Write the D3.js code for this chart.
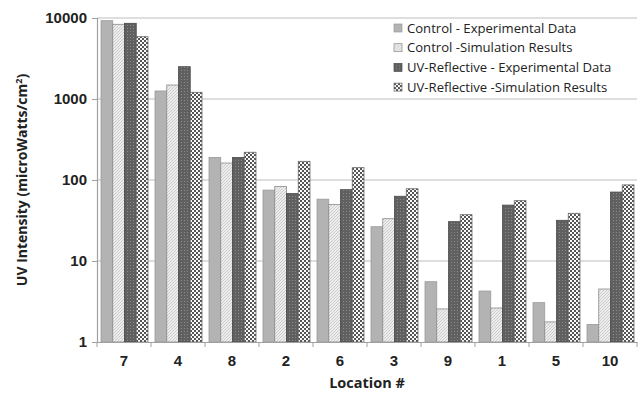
<!DOCTYPE html>
<html>
<head>
<meta charset="utf-8">
<script src="https://cdn.jsdelivr.net/npm/d3@7"></script>
<style>
  body { margin: 0; background: #fff; }
  svg { display: block; }
</style>
</head>
<body>
<div id="chart"></div>
<script>
// locations, in the order shown
const locations = ["7", "4", "8", "2", "6", "3", "9", "1", "5", "10"];
const seriesNames = [
  "Control - Experimental Data",
  "Control -Simulation Results",
  "UV-Reflective - Experimental Data",
  "UV-Reflective -Simulation Results"
];
const controlExp = [9260, 1256, 190, 75, 58, 26.5, 5.55, 4.26, 3.06, 1.65];
const controlSim = [8360, 1489, 162, 83, 50, 33.3, 2.56, 2.63, 1.77, 4.51];
const uvExp      = [8600, 2505, 190, 68, 76, 63, 30.6, 49, 31.8, 71];
const uvSim      = [5880, 1210, 220, 170, 142, 78, 37.3, 55.6, 38.8, 87];
const yTicks = [1, 10, 100, 1000, 10000];

const seriesValues = [controlExp, controlSim, uvExp, uvSim];
const fills = ["#b3b3b3", "url(#hatch)", "url(#dots)", "url(#checker)"];
const strokes = ["#9a9a9a", "#8a8a8a", "#4a4a4a", "#6a6a6a"];

const width = 641, height = 393;
const margin = {top: 18, right: 4, bottom: 51, left: 97};

const svg = d3.select("#chart").append("svg")
  .attr("width", width)
  .attr("height", height)
  .attr("font-family", "'Open Sans', sans-serif");

// fill patterns
const defs = svg.append("defs");
const hatch = defs.append("pattern").attr("id", "hatch")
  .attr("patternUnits", "userSpaceOnUse").attr("width", 3).attr("height", 3);
hatch.append("rect").attr("width", 3).attr("height", 3).attr("fill", "#ededed");
hatch.append("path").attr("d", "M0,3 L3,0 M-1,1 L1,-1 M2,4 L4,2")
  .attr("stroke", "#c4c4c4").attr("stroke-width", 0.8);

const dots = defs.append("pattern").attr("id", "dots")
  .attr("patternUnits", "userSpaceOnUse").attr("width", 3).attr("height", 3);
dots.append("rect").attr("width", 3).attr("height", 3).attr("fill", "#606060");
dots.append("rect").attr("x", 1).attr("y", 1).attr("width", 1).attr("height", 1).attr("fill", "#8a8a8a");

const checker = defs.append("pattern").attr("id", "checker")
  .attr("patternUnits", "userSpaceOnUse").attr("width", 4).attr("height", 4);
checker.append("rect").attr("width", 4).attr("height", 4).attr("fill", "#fafafa");
checker.append("rect").attr("width", 2).attr("height", 2).attr("fill", "#555");
checker.append("rect").attr("x", 2).attr("y", 2).attr("width", 2).attr("height", 2).attr("fill", "#555");

const x = d3.scaleBand()
  .domain(locations)
  .range([margin.left, width - margin.right]);

const xInner = d3.scaleBand()
  .domain(d3.range(seriesNames.length))
  .range([4, x.bandwidth() - 3]);

const y = d3.scaleLog()
  .domain([1, 10000])
  .range([height - margin.bottom, margin.top]);

// gridlines
svg.append("g")
  .selectAll("line")
  .data(yTicks.slice(1))
  .join("line")
  .attr("x1", margin.left)
  .attr("x2", width - margin.right)
  .attr("y1", d => y(d))
  .attr("y2", d => y(d))
  .attr("stroke", "#bdbdbd")
  .attr("stroke-width", 1.2);

// bars
const groups = svg.append("g")
  .selectAll("g")
  .data(seriesValues)
  .join("g")
  .attr("fill", (d, i) => fills[i])
  .attr("stroke", (d, i) => strokes[i]);

groups.selectAll("rect")
  .data((vals, si) => vals.map((v, li) => ({v, si, loc: locations[li]})))
  .join("rect")
  .attr("x", d => x(d.loc) + xInner(d.si))
  .attr("width", xInner.bandwidth())
  .attr("y", d => y(d.v))
  .attr("height", d => y(1) - y(d.v))
  .attr("stroke-width", 0.8);

// y axis
const yAxis = svg.append("g")
  .attr("transform", `translate(${margin.left},0)`)
  .call(d3.axisLeft(y).tickValues(yTicks).tickFormat(d3.format("d")).tickSize(5).tickPadding(5));
yAxis.select(".domain").attr("stroke", "#a0a0a0").attr("stroke-width", 1.2);
yAxis.selectAll(".tick line").attr("stroke", "#a0a0a0");
yAxis.selectAll("text")
  .attr("font-size", 15)
  .attr("font-weight", "bold")
  .attr("fill", "#222");

// x axis
const xAxis = svg.append("g")
  .attr("transform", `translate(0,${height - margin.bottom})`)
  .call(d3.axisBottom(x).tickSize(0).tickPadding(13));
xAxis.select(".domain").attr("stroke", "#a0a0a0").attr("stroke-width", 1.2);
xAxis.selectAll("text")
  .attr("font-size", 15)
  .attr("font-weight", "bold")
  .attr("fill", "#222");
xAxis.append("g")
  .selectAll("line")
  .data(locations.concat([null]))
  .join("line")
  .attr("x1", d => d == null ? width - margin.right : x(d))
  .attr("x2", d => d == null ? width - margin.right : x(d))
  .attr("y1", 0)
  .attr("y2", 5)
  .attr("stroke", "#a0a0a0");

// axis titles
svg.append("text")
  .attr("x", (margin.left + width - margin.right) / 2)
  .attr("y", 388)
  .attr("text-anchor", "middle")
  .attr("font-size", 14.5)
  .attr("font-weight", "bold")
  .attr("fill", "#222")
  .text("Location #");

const yTitle = svg.append("text")
  .attr("transform", `translate(27,${(margin.top + height - margin.bottom) / 2}) rotate(-90)`)
  .attr("text-anchor", "middle")
  .attr("font-size", 14)
  .attr("font-weight", "bold")
  .attr("fill", "#222");
yTitle.append("tspan").text("UV Intensity (microWatts/cm");
yTitle.append("tspan").attr("font-size", 9).attr("dy", -5).text("2");
yTitle.append("tspan").attr("dy", 5).text(")");

// legend
const legend = svg.append("g").attr("transform", "translate(392,22)");
legend.append("rect")
  .attr("x", 0).attr("y", -1)
  .attr("width", 240).attr("height", 75)
  .attr("fill", "#fff");
const item = legend.selectAll(".item")
  .data(seriesNames)
  .join("g")
  .attr("class", "item")
  .attr("transform", (d, i) => `translate(0,${i * 19.7})`);
item.append("rect")
  .attr("x", 2).attr("y", 2)
  .attr("width", 8).attr("height", 8)
  .attr("fill", (d, i) => fills[i])
  .attr("stroke", (d, i) => strokes[i])
  .attr("stroke-width", 0.7);
item.append("text")
  .attr("x", 15)
  .attr("y", 6)
  .attr("dy", "0.35em")
  .attr("font-size", 13.1)
  .attr("fill", "#222")
  .text(d => d);
</script>
</body>
</html>
